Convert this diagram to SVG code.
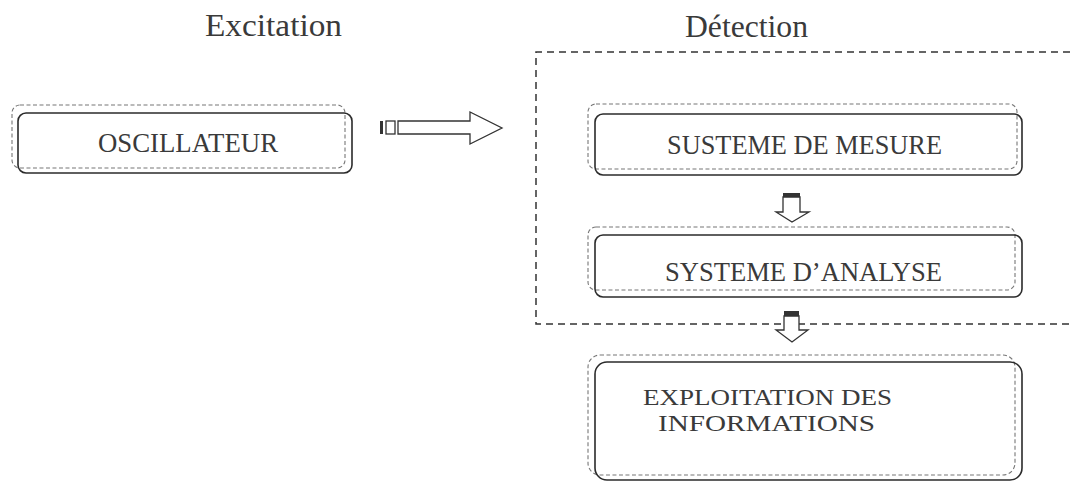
<svg xmlns="http://www.w3.org/2000/svg" width="1070" height="483" viewBox="0 0 1070 483">
<style>
.solid{fill:none;stroke:#2b2b2b;stroke-width:1.6}
.dash{fill:none;stroke:#777;stroke-width:1.1;stroke-dasharray:4,2.5}
.cont{fill:none;stroke:#333;stroke-width:1.5;stroke-dasharray:7,5}
.t{font-family:"Liberation Serif","Times New Roman",serif;fill:#3a3a3a;font-size:26.5px}
.t2{font-family:"Liberation Serif","Times New Roman",serif;fill:#3a3a3a;font-size:24px}
.cap{font-family:"Liberation Serif","Times New Roman",serif;fill:#3a3a3a;font-size:32.5px}
.arr{fill:#fff;stroke:#333;stroke-width:1.3}
.capfill{fill:#333}
</style>
<rect width="1070" height="483" fill="#fff"/>
<g id="label-excitation"><text class="cap" x="205" y="36" textLength="137" lengthAdjust="spacingAndGlyphs">Excitation</text></g>
<g id="label-detection"><text class="cap" x="685" y="37" textLength="123" lengthAdjust="spacingAndGlyphs">Détection</text></g>
<g id="detection-zone"><path class="cont" d="M1070,52 H536 V324 H1070"/></g>
<g id="oscillateur">
<rect class="dash" x="12" y="105" width="333" height="63" rx="8"/>
<rect class="solid" x="18" y="113" width="334" height="60" rx="8"/>
<text class="t" x="98" y="152" textLength="180" lengthAdjust="spacingAndGlyphs">OSCILLATEUR</text>
</g>
<g id="systeme-mesure">
<rect class="dash" x="588" y="104" width="429" height="65" rx="8"/>
<rect class="solid" x="595" y="114" width="427" height="61" rx="8"/>
<text class="t" x="667" y="154" textLength="275" lengthAdjust="spacingAndGlyphs">SUSTEME DE MESURE</text>
</g>
<g id="systeme-analyse">
<rect class="dash" x="588" y="227" width="427" height="63" rx="8"/>
<rect class="solid" x="595" y="235" width="427" height="62" rx="8"/>
<text class="t" x="665" y="281" textLength="277" lengthAdjust="spacingAndGlyphs">SYSTEME D’ANALYSE</text>
</g>
<g id="exploitation">
<rect class="dash" x="588" y="355" width="427" height="120" rx="12"/>
<rect class="solid" x="595" y="362" width="427" height="118" rx="12"/>
<text class="t2" x="643" y="405" textLength="249" lengthAdjust="spacingAndGlyphs">EXPLOITATION DES</text>
<text class="t2" x="658" y="431" textLength="217" lengthAdjust="spacingAndGlyphs">INFORMATIONS</text>
</g>
<g id="connectors">
<g id="arrow-osc-detection">
<rect class="capfill" x="380" y="121" width="3" height="13"/>
<rect class="arr" x="386" y="121" width="9" height="13"/>
<polygon class="arr" points="398,121 470,121 470,112 502,128 470,144 470,134 398,134"/>
</g>
<g id="arrow-mesure-analyse">
<rect class="capfill" x="783" y="193" width="17" height="4"/>
<polygon class="arr" points="783,197 800,197 800,212 809,212 792,222 776,212 783,212"/>
</g>
<g id="arrow-analyse-exploitation">
<rect class="capfill" x="784" y="311" width="15" height="5"/>
<polygon class="arr" points="784,316 799,316 799,330 808,330 792,342 776,330 784,330"/>
</g>
</g>
</svg>
